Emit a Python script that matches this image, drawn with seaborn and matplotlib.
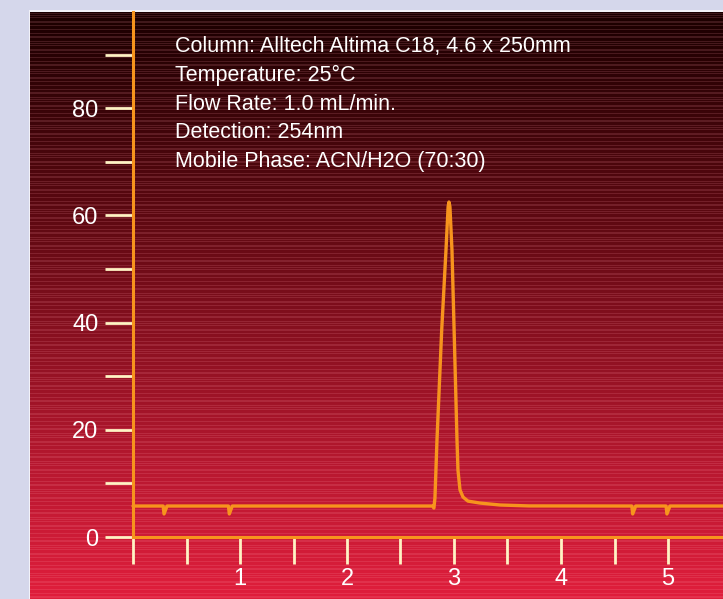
import numpy as np
import pandas as pd
import matplotlib
matplotlib.use("Agg")
import matplotlib.pyplot as plt
from matplotlib.colors import LinearSegmentedColormap, to_rgb
from matplotlib.patches import Rectangle
import seaborn as sns

# Chromatogram trace (retention time in minutes, detector response)
time_min = [0.00, 0.282, 0.290, 0.318, 0.892, 0.900, 0.928,
            2.800, 2.812, 2.822, 2.841, 2.885, 2.925, 2.945, 2.953, 2.962,
            2.981, 3.001, 3.028, 3.037, 3.056, 3.084, 3.130, 3.240, 3.430, 3.700,
            4.662, 4.670, 4.698, 4.982, 4.990, 5.018, 5.52]
response = [5.78, 5.78, 4.3, 5.78, 5.78, 4.3, 5.78,
            5.78, 5.40, 7.30, 18.1, 38.6, 53.5, 61.6, 62.5, 61.6,
            53.5, 38.6, 18.1, 12.5, 8.8, 7.46, 6.7, 6.34, 5.97, 5.80,
            5.78, 4.3, 5.78, 5.78, 4.3, 5.78, 5.78]

y_major = [0, 20, 40, 60, 80]
y_minor = [10, 30, 50, 70, 90]
x_major = [0, 1, 2, 3, 4, 5]
x_major_labels = ["", "1", "2", "3", "4", "5"]
x_minor = [0.5, 1.5, 2.5, 3.5, 4.5]

conditions = [
    "Column: Alltech Altima C18, 4.6 x 250mm",
    "Temperature: 25\u00b0C",
    "Flow Rate: 1.0 mL/min.",
    "Detection: 254nm",
    "Mobile Phase: ACN/H2O (70:30)",
]

ORANGE = "#f7941d"
CREAM = "#fff3c4"
W, H = 723, 599

sns.set_theme(style="white")
plt.rcParams["font.family"] = ["Liberation Sans", "DejaVu Sans"]

fig = plt.figure(figsize=(W / 100, H / 100), dpi=100)
fig.patch.set_facecolor("#d5d7eb")

# thin light frame around the panel
fig.patches.append(Rectangle((28.5 / W, 0), 1, (H - 10) / H,
                             transform=fig.transFigure,
                             facecolor="#f2f2f8", edgecolor="none", zorder=-10))

left_px, top_px = 30, 12
ax = fig.add_axes([left_px / W, 0, (W - left_px) / W, (H - top_px) / H])
ax.set_zorder(1)

# data scale: x=0 at px 133, 107 px per minute; y=0 at px 537, 5.36 px per unit
x0, xs = 133, 107.0
y0, ys = 537, 5.36
xlim = ((left_px - x0) / xs, (W - x0) / xs)
ylim = ((y0 - H) / ys, (y0 - top_px) / ys)

# striped vertical gradient background
n_rows = H - top_px
grad = LinearSegmentedColormap.from_list(
    "panel", [(0.0, "#1a0000"), (0.33, "#5a0810"), (0.78, "#b81830"), (1.0, "#e01e3c")])
t = np.linspace(0, 1, n_rows)
rows = grad(t)[:, :3]
stripe_col = np.array(to_rgb("#ff9aaa"))
idx = np.arange(n_rows)
mask = (idx % 4 == 1) | (idx % 7 == 3)
alpha = np.where(mask, 0.16, 0.0)[:, None]
rows = rows * (1 - alpha) + stripe_col * alpha
img = np.repeat(rows[:, None, :], 4, axis=1)
ax.imshow(img, extent=(xlim[0], xlim[1], ylim[0], ylim[1]), origin="upper",
          aspect="auto", interpolation="nearest", zorder=0)

df = pd.DataFrame({"time": time_min, "response": response})
sns.lineplot(data=df, x="time", y="response", ax=ax, color=ORANGE,
             linewidth=2.4, estimator=None, sort=False, zorder=3)
ax.set_xlabel("")
ax.set_ylabel("")
ax.set_xlim(*xlim)
ax.set_ylim(*ylim)

for side in ("top", "right"):
    ax.spines[side].set_visible(False)
ax.spines["left"].set_position(("data", 0))
ax.spines["bottom"].set_position(("data", 0))
ax.spines["left"].set_bounds(0, ylim[1])
ax.spines["bottom"].set_bounds(0, xlim[1])
for side in ("left", "bottom"):
    ax.spines[side].set_color(ORANGE)
    ax.spines[side].set_linewidth(2.2)
    ax.spines[side].set_zorder(4)

ax.set_yticks(y_major)
ax.set_yticks(y_minor, minor=True)
ax.set_yticklabels([str(v) for v in y_major])
ax.set_xticks(x_major)
ax.set_xticks(x_minor, minor=True)
ax.set_xticklabels(x_major_labels)

ax.tick_params(axis="y", which="both", direction="out", length=20, width=2.0,
               color=CREAM, left=True, labelcolor="white", labelsize=17, pad=5)
ax.tick_params(axis="x", which="both", direction="out", length=19.5, width=2.0,
               color=CREAM, bottom=True, labelcolor="white", labelsize=17, pad=3)

# run conditions
base_px = [51.7, 80.6, 109.5, 138.4, 167.3]
for line, py in zip(conditions, base_px):
    ax.text((175 - left_px) / (W - left_px), (H - py) / (H - top_px), line,
            transform=ax.transAxes, color="white", fontsize=15.5,
            ha="left", va="baseline", zorder=5)

fig.savefig("out.png", dpi=100, facecolor=fig.get_facecolor())
